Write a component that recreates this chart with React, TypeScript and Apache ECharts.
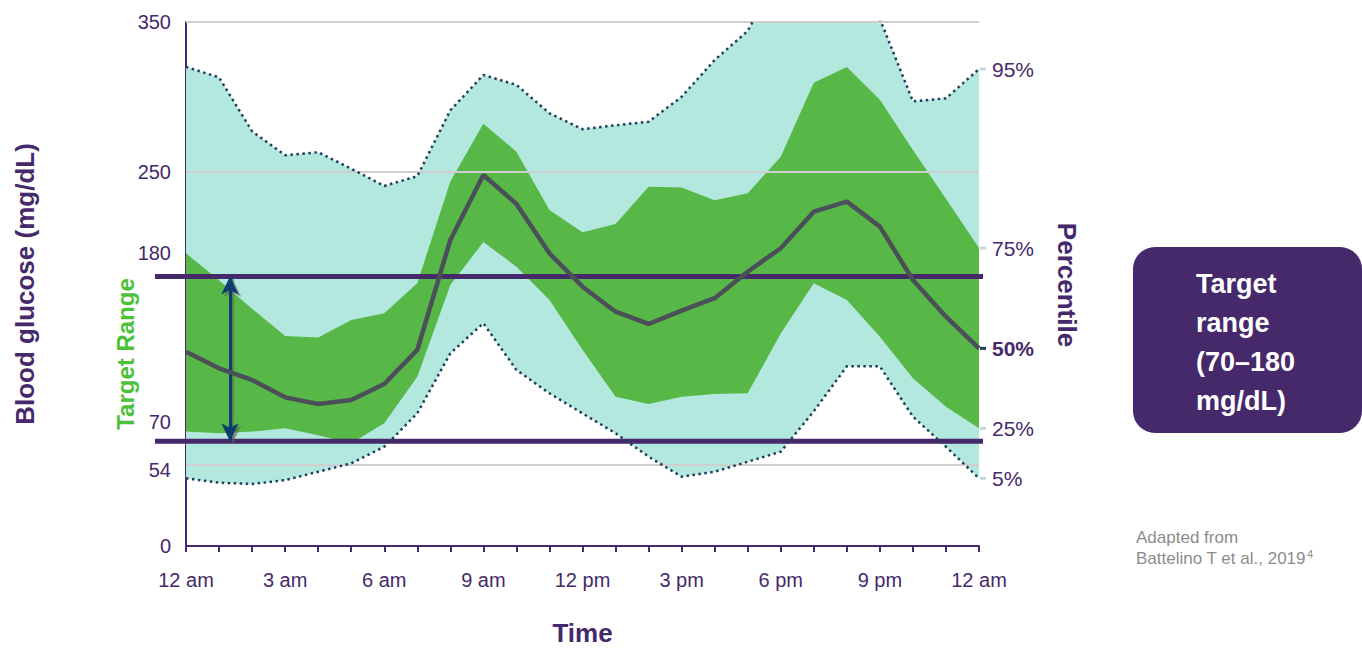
import React, { useEffect, useRef } from 'react';
import * as echarts from 'echarts';

// ---- data ----
const hourLabels = [
  '12 am', '1 am', '2 am', '3 am', '4 am', '5 am', '6 am', '7 am', '8 am', '9 am', '10 am', '11 am',
  '12 pm', '1 pm', '2 pm', '3 pm', '4 pm', '5 pm', '6 pm', '7 pm', '8 pm', '9 pm', '10 pm', '11 pm', '12 am',
];
const p95 = [320, 313, 277, 261, 263, 252, 240.5, 247, 291, 314.6, 308, 289, 278.4, 281, 283.4, 300, 324.6, 344, 385, 400, 390, 352, 297, 299, 318.6];
const p75 = [195.5, 177.5, 158.5, 140.3, 139.2, 151, 155.4, 175.5, 243.4, 282, 263.4, 224.4, 209.5, 215, 240, 239.4, 231, 235.6, 260, 309.5, 320, 298, 264.5, 232, 199];
const p50 = [129.8, 118.7, 110.9, 99.3, 94.9, 97.5, 108.2, 131, 204.4, 247.8, 228.5, 195.5, 173.2, 156.5, 148.3, 157.2, 165.5, 183.2, 198.9, 223.3, 230, 213.3, 177.7, 153.2, 132];
const p25 = [76.4, 75.3, 76.4, 78.6, 74, 68.6, 82, 113, 174.3, 203, 186.6, 164.3, 131, 99.7, 94.9, 99.7, 101.5, 102, 142, 175.5, 164.3, 139.8, 112, 93, 78.6];
const p5 = [45.2, 42.3, 41.4, 44, 49.6, 55.2, 66.3, 88.6, 128.7, 148.8, 117.6, 102, 88.6, 75.3, 59.7, 46.3, 49.6, 56.3, 63, 90, 120, 120, 86.4, 66.3, 45.2];
const yTicks = [0, 54, 70, 180, 250, 350];
const gridValues = [54, 250, 350];
const targetLow = 70;
const targetHigh = 180;
const arrowHour = 1.33;
const percentileLabels = { p95: '95%', p75: '75%', p50: '50%', p25: '25%', p5: '5%' };

// ---- styles ----
const F = '"Liberation Sans", Arial, Helvetica, sans-serif';
const PURPLE = '#45296b';
const CYAN = '#b3e8df';
const GREEN = '#57b847';
const MEDIAN = '#4b4f58';
const DOTTED = '#1f3f5f';
const ARROW = '#0d3d6b';
const GRIDC = '#cfcfcf';

const endLbl = (text: string, bold: boolean, dash: string) => ({
  show: true,
  distance: 1,
  formatter: `{d| }{t|${text}}`,
  rich: {
    d: { width: 6, height: 3, backgroundColor: dash, fontSize: 3 },
    t: {
      fontSize: 21,
      fontWeight: bold ? 'bold' : 'normal',
      color: PURPLE,
      fontFamily: F,
      padding: [0, 0, 0, 6],
    },
  },
});

const yLabelFormatter = (v: number) => {
  if (v === targetHigh) return `{hi|${v}}`;
  if (v === targetLow) return `{lo|${v}}`;
  if (v === 54) return `{dn|${v}}`;
  return `{n|${v}}`;
};
const yLbl = { fontSize: 20, color: PURPLE, fontFamily: F };

export default function App() {
  const ref = useRef<HTMLDivElement>(null);
  useEffect(() => {
    const chart = echarts.init(ref.current!, null, { renderer: 'svg' });
    const option: any = {
      animation: false,
      textStyle: { fontFamily: F },
      grid: [
        { left: 186, right: 383, top: 22, bottom: 103, containLabel: false, outerBoundsMode: 'none' },
        { left: 155, right: 379, top: 22, bottom: 103, containLabel: false, outerBoundsMode: 'none' },
      ],
      xAxis: [
        {
          type: 'category',
          gridIndex: 0,
          data: hourLabels,
          boundaryGap: false,
          axisLine: { show: true, lineStyle: { color: PURPLE, width: 2 } },
          axisTick: { show: true, interval: 0, length: 6, lineStyle: { color: PURPLE, width: 2 } },
          axisLabel: { interval: 2, color: PURPLE, fontSize: 20, margin: 24, fontFamily: F },
          splitLine: { show: false },
          name: 'Time',
          nameLocation: 'middle',
          nameGap: 74,
          nameTextStyle: { color: PURPLE, fontSize: 26, fontWeight: 'bold', fontFamily: F, lineHeight: 26 },
        },
        { type: 'value', gridIndex: 1, min: 0, max: 1, show: false },
        { type: 'value', gridIndex: 0, min: 0, max: 24, show: false },
      ],
      yAxis: [
        {
          type: 'value',
          gridIndex: 0,
          min: 0,
          max: 350,
          axisLine: { show: true, onZero: false, lineStyle: { color: PURPLE, width: 2 } },
          axisTick: { show: false },
          splitLine: { show: false },
          axisLabel: {
            customValues: yTicks,
            margin: 15,
            formatter: yLabelFormatter,
            rich: {
              n: { ...yLbl },
              hi: { ...yLbl, padding: [0, 0, 47, 0] },
              lo: { ...yLbl, padding: [0, 0, 38, 0] },
              dn: { ...yLbl, padding: [10, 0, 0, 0] },
            },
          },
          name: 'Blood glucose (mg/dL)',
          nameLocation: 'middle',
          nameGap: 148,
          nameRotate: 90,
          nameTextStyle: { color: PURPLE, fontSize: 26, fontWeight: 'bold', fontFamily: F },
        },
        { type: 'value', gridIndex: 1, min: 0, max: 350, show: false },
      ],
      series: [
        {
          name: 'p5base',
          type: 'line',
          stack: 'outer',
          data: p5,
          symbol: 'none',
          silent: true,
          lineStyle: { width: 0, opacity: 0 },
          z: 1,
          markLine: {
            silent: true,
            symbol: 'none',
            label: { show: false },
            lineStyle: { color: GRIDC, width: 2, type: 'solid' },
            data: gridValues.map((v) => ({ yAxis: v })),
          },
        },
        {
          name: 'outer band',
          type: 'line',
          stack: 'outer',
          data: p95.map((v, i) => v - p5[i]),
          symbol: 'none',
          silent: true,
          lineStyle: { width: 0, opacity: 0 },
          areaStyle: { color: CYAN, opacity: 1 },
          z: 2,
        },
        {
          name: 'p25base',
          type: 'line',
          stack: 'inner',
          data: p25,
          symbol: 'none',
          silent: true,
          lineStyle: { width: 0, opacity: 0 },
          z: 3,
          endLabel: endLbl(percentileLabels.p25, false, '#c7d6dd'),
        },
        {
          name: 'inner band',
          type: 'line',
          stack: 'inner',
          data: p75.map((v, i) => v - p25[i]),
          symbol: 'none',
          silent: true,
          lineStyle: { width: 0, opacity: 0 },
          areaStyle: { color: GREEN, opacity: 1 },
          z: 3,
          endLabel: endLbl(percentileLabels.p75, false, '#c7d6dd'),
        },
        {
          name: 'target high',
          type: 'line',
          xAxisIndex: 1,
          yAxisIndex: 1,
          data: [[0, targetHigh], [1, targetHigh]],
          symbol: 'none',
          silent: true,
          lineStyle: { color: PURPLE, width: 5 },
          z: 4,
        },
        {
          name: 'target low',
          type: 'line',
          xAxisIndex: 1,
          yAxisIndex: 1,
          data: [[0, targetLow], [1, targetLow]],
          symbol: 'none',
          silent: true,
          lineStyle: { color: PURPLE, width: 5 },
          z: 4,
        },
        {
          name: 'p95',
          type: 'line',
          data: p95,
          symbol: 'none',
          silent: true,
          lineStyle: { color: DOTTED, width: 2.5, type: [2.5, 3.5] },
          z: 5,
          endLabel: endLbl(percentileLabels.p95, false, '#c7d6dd'),
        },
        {
          name: 'p5',
          type: 'line',
          data: p5,
          symbol: 'none',
          silent: true,
          lineStyle: { color: DOTTED, width: 2.5, type: [2.5, 3.5] },
          z: 5,
          endLabel: endLbl(percentileLabels.p5, false, '#c7d6dd'),
        },
        {
          name: 'median',
          type: 'line',
          data: p50,
          symbol: 'none',
          silent: true,
          lineStyle: { color: MEDIAN, width: 4.5 },
          z: 6,
          endLabel: endLbl(percentileLabels.p50, true, DOTTED),
        },
        {
          name: 'arrow',
          type: 'line',
          xAxisIndex: 2,
          yAxisIndex: 0,
          data: [],
          symbol: 'none',
          silent: true,
          z: 7,
          markLine: {
            silent: true,
            symbol: ['arrow', 'arrow'],
            symbolSize: [13, 18],
            label: { show: false },
            lineStyle: { color: ARROW, width: 3, type: 'solid' },
            data: [
              [
                { coord: [arrowHour + 0.08, targetHigh - 1.5], lineStyle: { color: 'rgba(90,90,90,0.55)' }, itemStyle: { color: 'rgba(90,90,90,0.55)' } },
                { coord: [arrowHour + 0.08, targetLow - 1.5] },
              ],
              [{ coord: [arrowHour, targetHigh] }, { coord: [arrowHour, targetLow] }],
            ],
          },
        },
      ],
      graphic: [
        {
          type: 'text',
          x: 125,
          y: 354,
          rotation: Math.PI / 2,
          style: {
            text: 'Target Range',
            fill: '#4cc13a',
            font: `bold 24px ${F}`,
            align: 'center',
            verticalAlign: 'middle',
            textAlign: 'center',
            textVerticalAlign: 'middle',
          },
        },
        {
          type: 'text',
          x: 1067,
          y: 285,
          rotation: -Math.PI / 2,
          style: {
            text: 'Percentile',
            fill: PURPLE,
            font: `bold 26px ${F}`,
            align: 'center',
            verticalAlign: 'middle',
            textAlign: 'center',
            textVerticalAlign: 'middle',
          },
        },
        {
          type: 'rect',
          shape: { x: 1133, y: 247, width: 229, height: 186, r: 22 },
          style: { fill: PURPLE },
        },
        {
          type: 'text',
          x: 1196,
          y: 264,
          style: {
            text: 'Target\nrange\n(70–180\nmg/dL)',
            fill: '#ffffff',
            font: `bold 27px ${F}`,
            lineHeight: 39,
            align: 'left',
            verticalAlign: 'top',
          },
        },
        {
          type: 'text',
          x: 1136,
          y: 527,
          style: {
            text: 'Adapted from\nBattelino T et al., 2019{s|4}',
            fill: '#8c8c8c',
            font: `17px ${F}`,
            lineHeight: 21,
            align: 'left',
            verticalAlign: 'top',
            rich: {
              s: { fontSize: 11, fill: '#8c8c8c', verticalAlign: 'top', padding: [0, 0, 8, 1] },
            },
          },
        },
      ],
    };
    chart.setOption(option);
    return () => chart.dispose();
  }, []);
  return (
    <div
      ref={ref}
      style={{ position: 'absolute', left: 0, top: 0, width: 1362, height: 649 }}
    />
  );
}
